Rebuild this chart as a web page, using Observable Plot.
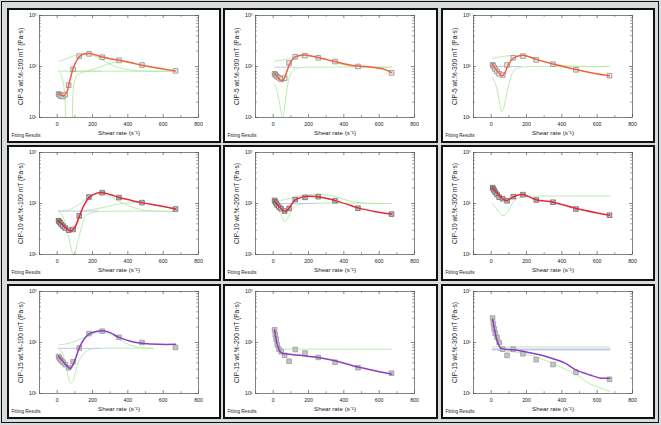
<!DOCTYPE html>
<html>
<head>
<meta charset="utf-8">
<script src="https://cdn.jsdelivr.net/npm/d3@7"></script>
<script src="https://cdn.jsdelivr.net/npm/@observablehq/plot@0.6"></script>
<style>
  html, body { margin: 0; padding: 0; }
  body { width: 661px; height: 425px; background: #d8dcdc; position: relative; overflow: hidden; font-family: "Liberation Sans", Arial, sans-serif; }
  #outer { position: absolute; left: 1px; top: 1px; width: 658px; height: 422px; border: 1px solid #111; box-sizing: border-box; }
  .panel { position: absolute; border: 2px solid #111; background: #fff; box-sizing: border-box; overflow: hidden; }
  .panel svg { display: block; }
</style>
</head>
<body>
<div id="outer"></div>
<script>
// ---- shared axis values ----
const xMajor = [0, 200, 400, 600, 800];
const xMinor = [-100, 100, 300, 500, 700];
const yMajor = [10, 100, 1000];
const yMinor = [20, 30, 40, 50, 60, 70, 80, 90, 200, 300, 400, 500, 600, 700, 800, 900];
const supers = {1: "¹", 2: "²", 3: "³"};
const xTitle = "Shear rate (s⁻¹)";
const fitNote = "Fitting Results";

// ---- measured points (shear rate, viscosity) ----
const shearRate = [8, 12, 17, 23, 33, 45, 65, 90, 125, 180, 255, 350, 480, 670];
const visc5_100  = [29, 28, 27, 26, 26, 28, 43, 88, 160, 177, 152, 132, 107, 82];
const visc5_200  = [72, 69, 66, 63, 60, 56, 59, 117, 155, 163, 148, 125, 100, 75];
const visc5_300  = [108, 103, 96, 88, 80, 72, 68, 107, 148, 160, 135, 111, 86, 66];
const visc10_100 = [46, 44, 42, 39, 36, 33, 30, 31, 57, 134, 163, 131, 104, 78];
const visc10_200 = [115, 108, 100, 93, 85, 79, 71, 80, 119, 132, 136, 113, 81, 62];
const visc10_300 = [205, 193, 180, 166, 150, 133, 124, 113, 136, 149, 117, 106, 78, 59];
const visc15_100 = [53, 50, 47, 44, 41, 37, 32, 42, 78, 149, 167, 126, 100, 80];
const visc15_200 = [177, 141, 116, 90, 74, 66, 56, 43, 73, 62, 51, 41, 32, 25];
const visc15_300 = [302, 233, 185, 151, 126, 100, 74, 56, 74, 60, 46, 37, 26, 19];

// ---- fitted curves ----
const fit5_100 = [[8,29],[25,27],[40,27],[55,32],[70,50],[90,90],[110,130],[130,162],[160,178],[185,180],[220,168],[255,153],[300,142],[350,132],[420,118],[480,106],[580,92],[670,82]];
const fit5_200 = [[8,72],[25,62],[45,53],[60,57],[80,85],[100,125],[125,155],[160,166],[190,167],[255,150],[350,125],[420,110],[480,102],[560,97],[620,90],[670,76]];
const fit5_300 = [[8,110],[25,90],[45,74],[60,66],[75,72],[95,105],[125,145],[160,162],[190,165],[255,138],[350,112],[480,87],[580,74],[670,66]];
const fit10_100 = [[8,46],[20,42],[40,36],[60,31],[75,29],[95,32],[125,55],[150,90],[185,135],[220,158],[255,165],[300,150],[350,131],[420,115],[480,104],[580,90],[670,78]];
const fit10_200 = [[8,113],[25,95],[45,80],[65,70],[80,74],[100,92],[125,118],[160,132],[200,138],[240,137],[300,127],[350,114],[420,96],[480,82],[580,69],[670,62]];
const fit10_300 = [[8,205],[20,185],[35,160],[55,133],[75,118],[90,115],[110,125],[140,142],[180,150],[210,138],[255,118],[350,106],[480,80],[670,59]];
const fit15_100 = [[8,53],[25,46],[45,38],[65,32],[75,31],[95,40],[125,78],[155,120],[185,150],[220,165],[255,170],[300,156],[350,126],[420,105],[480,97],[580,92],[670,92]];
const fit15_200 = [[8,177],[15,125],[22,95],[30,78],[40,66],[55,61],[70,60],[150,56],[255,51],[350,44],[480,33],[670,24]];
const fit15_300 = [[8,290],[15,210],[22,160],[30,120],[40,95],[50,80],[65,75],[125,72],[200,65],[280,57],[350,48],[420,39],[480,29],[560,23],[620,20],[670,20]];

// ---- fitting components (green) ----
const green5_100 = [
  [[8,126],[60,145],[110,168],[145,177],[190,170],[240,145],[295,112],[360,92],[430,84],[500,81],[670,81]],
  [[8,81],[670,81]],
  [[8,81],[25,65],[40,35],[48,10],[55,2],[80,2],[86,10],[95,45],[115,68],[160,79],[250,81]],
  [[100,80],[160,82],[220,92],[290,112],[350,126],[420,118],[480,106],[580,90],[670,81]]
];
const green5_200 = [
  [[8,128],[60,135],[120,150],[190,163],[255,150],[350,120],[420,103],[480,98],[670,97]],
  [[8,45],[20,35],[35,20],[48,11],[53,9],[60,12],[75,30],[95,66],[125,90],[170,96],[250,97],[670,97]]
];
const green5_300 = [
  [[8,145],[70,158],[130,165],[190,165],[260,140],[350,114],[430,103],[520,100],[670,100]],
  [[8,60],[25,45],[40,28],[52,16],[60,13],[70,15],[85,25],[100,45],[120,75],[140,90],[180,98],[250,100],[670,100]]
];
const green10_100 = [
  [[8,71],[60,74],[100,86],[140,105],[185,134],[232,155],[270,150],[308,134],[360,105],[421,86],[480,75],[553,71],[670,70]],
  [[8,70],[25,62],[45,42],[65,22],[80,13],[90,10],[100,11],[120,20],[140,36],[156,55],[190,65],[232,69],[670,70]],
  [[120,70],[175,74],[250,82],[330,95],[400,103],[440,105],[480,104],[580,90],[670,78]]
];
const green10_200 = [
  [[8,113],[60,118],[140,138],[200,148],[255,153],[320,145],[380,128],[428,113],[480,104],[563,100],[670,100]],
  [[8,93],[30,75],[50,55],[63,44],[75,46],[90,60],[121,86],[150,96],[200,100],[670,100]]
];
const green10_300 = [
  [[8,100],[30,80],[50,63],[65,58],[80,60],[105,80],[125,108],[150,126],[190,138],[250,140],[670,140]]
];
const green15_100 = [
  [[8,90],[60,95],[120,112],[180,140],[238,158],[290,150],[340,125],[390,96],[450,82],[543,77]],
  [[8,77],[30,62],[50,35],[65,20],[76,16],[88,17],[105,27],[125,45],[162,66],[200,75],[260,77],[543,77]]
];
const green15_200 = [
  [[30,74],[670,74]]
];
const green15_300 = [
  [[8,82],[670,82]],
  [[35,70],[110,67],[188,60],[270,50],[342,40],[420,30],[496,22],[550,16],[592,14],[640,12],[670,11]]
];

// ---- baseline (lavender) ----
const lav5_100 = [];
const lav5_200 = [[8,97],[130,97]];
const lav5_300 = [[8,100],[170,100]];
const lav10_100 = [[8,71],[235,71]];
const lav10_200 = [[8,100],[240,100]];
const lav10_300 = [];
const lav15_100 = [[8,77],[240,77]];
const lav15_200 = [];
const lav15_300 = [[8,73],[670,73]];

const yTitles = [
  "CIP-5 wt.%-100 mT (Pa·s)", "CIP-5 wt.%-200 mT (Pa·s)", "CIP-5 wt.%-300 mT (Pa·s)",
  "CIP-10 wt.%-100 mT (Pa·s)", "CIP-10 wt.%-200 mT (Pa·s)", "CIP-10 wt.%-300 mT (Pa·s)",
  "CIP-15 wt.%-100 mT (Pa·s)", "CIP-15 wt.%-200 mT (Pa·s)", "CIP-15 wt.%-300 mT (Pa·s)"
];
const rowColors = ["#f2613d", "#e8283a", "#8b3fc4"];

const viscs = [visc5_100, visc5_200, visc5_300, visc10_100, visc10_200, visc10_300, visc15_100, visc15_200, visc15_300];
const fits = [fit5_100, fit5_200, fit5_300, fit10_100, fit10_200, fit10_300, fit15_100, fit15_200, fit15_300];
const greens = [green5_100, green5_200, green5_300, green10_100, green10_200, green10_300, green15_100, green15_200, green15_300];
const lavs = [lav5_100, lav5_200, lav5_300, lav10_100, lav10_200, lav10_300, lav15_100, lav15_200, lav15_300];

// panel boxes (outer, incl. border)
const colLeft = [7, 223, 441], colWidth = [214, 215, 214];
const rowTop = [8, 145, 284], rowHeight = [135, 136, 135];

const PX = d => d[0], PY = d => d[1];

for (let i = 0; i < 9; i++) {
  const r = Math.floor(i / 3), c = i % 3;
  const W = colWidth[c] - 4, H = rowHeight[r] - 4;
  const mL = 30, mR = W - 189, mT = 5, mB = H - 107;
  const innerW = W - mL - mR, innerH = H - mT - mB;
  const pts = shearRate.map((x, k) => ({x, y: viscs[i][k]}));
  const marks = [];
  for (const g of greens[i]) {
    marks.push(Plot.line(g, {x: PX, y: PY, stroke: "#b2eaa6", strokeWidth: 0.9, curve: "catmull-rom", clip: true}));
  }
  if (lavs[i].length) {
    marks.push(Plot.line(lavs[i], {x: PX, y: PY, stroke: "#c4c6f0", strokeWidth: i === 8 ? 2 : 1, clip: true}));
  }
  const markerFill = r === 0 ? "#ececec" : r === 1 ? "#d4d4d4" : "#c4c4c4";
  const markerStroke = r === 0 ? "#8a8a8a" : r === 1 ? "#6a6a6a" : "#9a9a9a";
  marks.push(Plot.dot(pts, {x: "x", y: "y", symbol: "square", r: 2.6, fill: markerFill, stroke: markerStroke, strokeWidth: 0.8}));
  if (r === 1) {
    marks.push(Plot.dot(pts, {x: "x", y: "y", symbol: "times", r: 2.0, stroke: "#666", strokeWidth: 0.6}));
  }
  marks.push(Plot.line(fits[i], {x: PX, y: PY, stroke: rowColors[r], strokeWidth: 1.5, curve: "catmull-rom", clip: true}));
  marks.push(Plot.frame({stroke: "#666", strokeWidth: 0.8}));
  // inward ticks on all four sides
  marks.push(Plot.tickX(xMajor, {x: d => d, insetTop: innerH - 3, stroke: "#555", strokeWidth: 0.7}));
  marks.push(Plot.tickX(xMajor, {x: d => d, insetBottom: innerH - 3, stroke: "#555", strokeWidth: 0.7}));
  marks.push(Plot.tickX(xMinor, {x: d => d, insetTop: innerH - 1.8, stroke: "#555", strokeWidth: 0.6}));
  marks.push(Plot.tickX(xMinor, {x: d => d, insetBottom: innerH - 1.8, stroke: "#555", strokeWidth: 0.6}));
  marks.push(Plot.tickY(yMajor, {y: d => d, insetRight: innerW - 3, stroke: "#555", strokeWidth: 0.7}));
  marks.push(Plot.tickY(yMajor, {y: d => d, insetLeft: innerW - 3, stroke: "#555", strokeWidth: 0.7}));
  marks.push(Plot.tickY(yMinor, {y: d => d, insetRight: innerW - 1.8, stroke: "#555", strokeWidth: 0.6}));
  marks.push(Plot.tickY(yMinor, {y: d => d, insetLeft: innerW - 1.8, stroke: "#555", strokeWidth: 0.6}));
  // titles
  marks.push(Plot.text([xTitle], {text: d => d, frameAnchor: "bottom", textAnchor: "middle", dy: 17, fontSize: 6.2, fill: "#222"}));
  marks.push(Plot.text([yTitles[i]], {text: d => d, frameAnchor: "left", textAnchor: "middle", dx: -19, rotate: -90, fontSize: 6.6, fill: "#222"}));
  marks.push(Plot.text([fitNote], {text: d => d, frameAnchor: "bottom-left", textAnchor: "start", dx: -28, dy: 19, fontSize: 4.6, fill: "#222"}));

  const svg = Plot.plot({
    width: W, height: H,
    marginLeft: mL, marginRight: mR, marginTop: mT, marginBottom: mB,
    style: {fontFamily: "'Liberation Sans', Arial, sans-serif", fontSize: "5.2px", color: "#222", background: "#fff", overflow: "visible"},
    x: {domain: [-100, 800], ticks: xMajor, tickSize: 0, tickPadding: 5, label: null},
    y: {type: "log", domain: [10, 1000], ticks: yMajor, tickSize: 0, tickPadding: 3, label: null,
        tickFormat: d => "10" + supers[Math.round(Math.log10(d))]},
    marks
  });
  const div = document.createElement("div");
  div.className = "panel";
  div.style.left = colLeft[c] + "px";
  div.style.top = rowTop[r] + "px";
  div.style.width = colWidth[c] + "px";
  div.style.height = rowHeight[r] + "px";
  div.appendChild(svg);
  document.body.appendChild(div);
}
</script>
</body>
</html>
